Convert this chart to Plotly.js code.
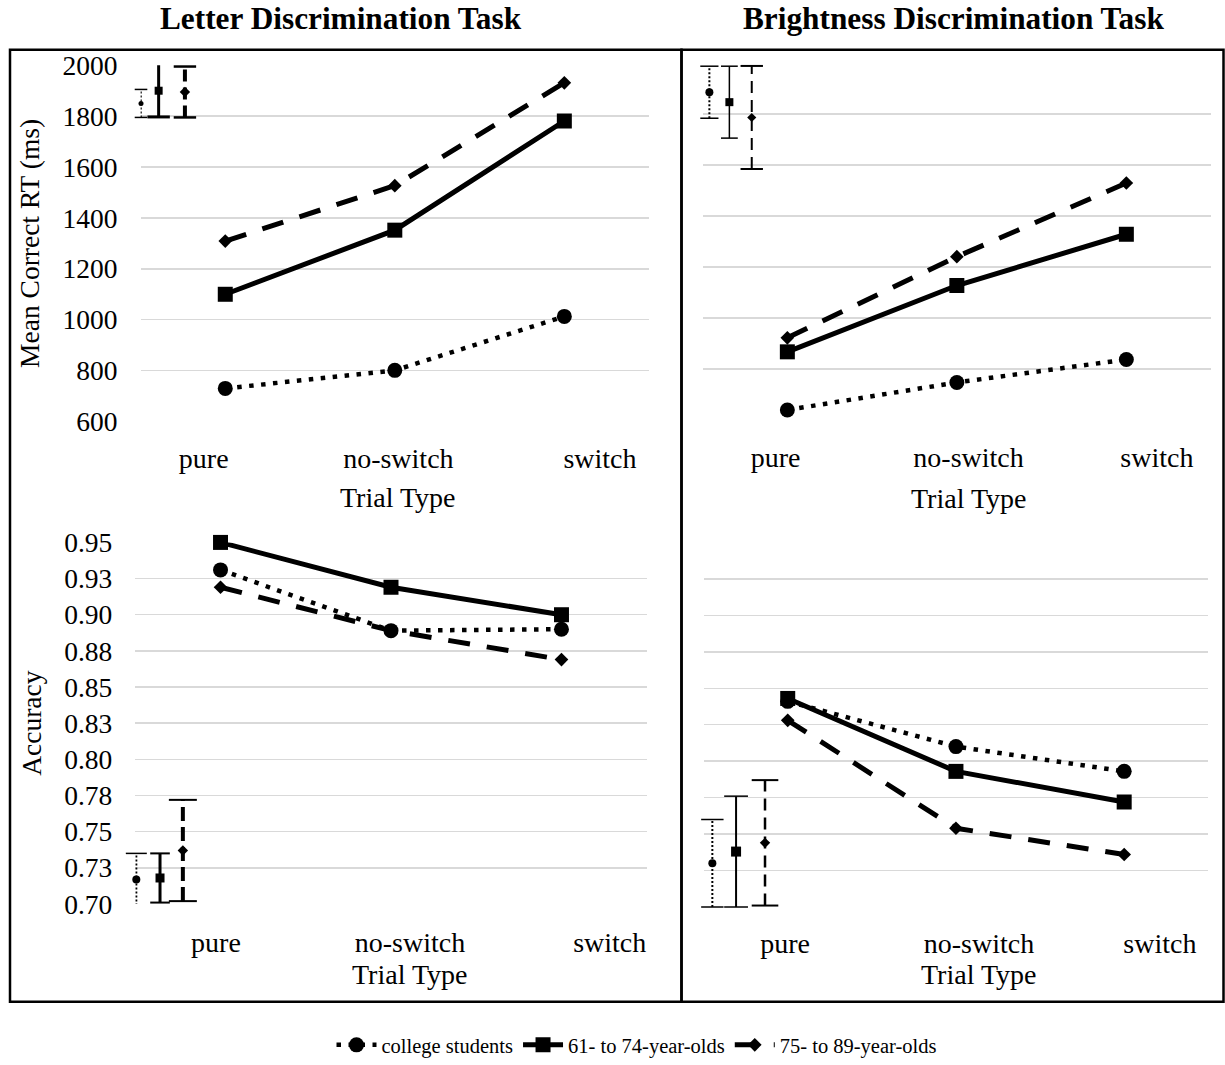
<!DOCTYPE html>
<html><head><meta charset="utf-8">
<script src="https://cdn.plot.ly/plotly-3.0.1.min.js"></script>
<style>html,body{margin:0;padding:0;background:#fff}#chart{width:1225px;height:1065px}</style>
</head><body><div id="chart"></div>
<script>
// ---------- data ----------
const trialTypes = ['pure', 'no-switch', 'switch'];
const groups = ['college students', '61- to 74-year-olds', '75- to 89-year-olds'];
const xTitle = 'Trial Type';

const rtLetterCollege = [730, 801, 1013];
const rtLetterYoungOld = [1100, 1352, 1781];
const rtLetterOldOld = [1309, 1527, 1931];

const rtBrightCollege = [639, 747, 837];
const rtBrightYoungOld = [867, 1127, 1328];
const rtBrightOldOld = [922, 1240, 1529];

const accLetterCollege = [0.931, 0.889, 0.890];
const accLetterYoungOld = [0.950, 0.919, 0.900];
const accLetterOldOld = [0.919, 0.889, 0.869];

const accBrightCollege = [0.841, 0.810, 0.793];
const accBrightYoungOld = [0.843, 0.793, 0.772];
const accBrightOldOld = [0.828, 0.754, 0.736];

// average error bars (mean and half-width) per group
const rtLetterErrMean = [1850, 1900, 1895];
const rtLetterErrSE = [55, 103, 100];
const rtBrightErrMean = [1885, 1846, 1786];
const rtBrightErrSE = [102, 141, 202];
const accLetterErrMean = [0.717, 0.718, 0.737];
const accLetterErrSE = [0.018, 0.017, 0.035];
const accBrightErrMean = [0.730, 0.738, 0.744];
const accBrightErrSE = [0.030, 0.038, 0.043];

const rtTickVals = [600, 800, 1000, 1200, 1400, 1600, 1800, 2000];
const rtTickText = ['600', '800', '1000', '1200', '1400', '1600', '1800', '2000'];
const accTickVals = [0.70, 0.725, 0.75, 0.775, 0.80, 0.825, 0.85, 0.875, 0.90, 0.925, 0.95];
const accTickText = ['0.70', '0.73', '0.75', '0.78', '0.80', '0.83', '0.85', '0.88', '0.90', '0.93', '0.95'];

// ---------- layout / styles ----------
const W = 1225, H = 1065;
const px = v => v / W;
const py = v => 1 - v / H;
const FONT = 'Liberation Serif, Times New Roman, serif';
const xIdx = trialTypes.map((_, i) => i);

const lineStyles = [
  {width: 4.5, dash: '4.5px,7.5px', symbol: 'circle', size: 15},
  {width: 5, dash: 'solid', symbol: 'square', size: 15},
  {width: 5, dash: '22px,17px', symbol: 'diamond', size: 10.5}
];
const errSymbols = ['circle', 'square', 'diamond'];

const panels = [
  {xd: [140.5, 649.1], yd: [65.7, 424.3], yr: [600, 2000], tv: rtTickVals, tt: rtTickText, showY: true,
   ytitle: 'Mean Correct RT (ms)', lab: [-0.127, 1.021, 2.21], titleY: 501, labStand: 17,
   series: [rtLetterCollege, rtLetterYoungOld, rtLetterOldOld],
   em: rtLetterErrMean, es: rtLetterErrSE, ep: [-0.497, -0.393, -0.238],
   est: [{w: 1.5, dash: '2px,2px', cap: 9, cw: 1.5, ms: 5}, {w: 3, dash: 'solid', cap: 16, cw: 3, ms: 8}, {w: 4, dash: '12px,6px', cap: 16, cw: 2.5, ms: 8}]},
  {xd: [702.6, 1211.1], yd: [63.3, 422.7], yr: [600, 2000], tv: rtTickVals, tt: rtTickText, showY: false,
   ytitle: '', lab: [-0.069, 1.069, 2.18], titleY: 502, labStand: 18,
   series: [rtBrightCollege, rtBrightYoungOld, rtBrightOldOld],
   em: rtBrightErrMean, es: rtBrightErrSE, ep: [-0.46, -0.342, -0.21],
   est: [{w: 2, dash: '2px,2px', cap: 13, cw: 1.5, ms: 8}, {w: 1.5, dash: 'solid', cap: 12, cw: 1.5, ms: 8}, {w: 2, dash: '12px,7px', cap: 16, cw: 2, ms: 7}]},
  {xd: [135.3, 646.7], yd: [546, 910], yr: [0.70, 0.95], tv: accTickVals, tt: accTickText, showY: true,
   ytitle: 'Accuracy', lab: [-0.027, 1.111, 2.283], titleY: 981, labStand: 19,
   series: [accLetterCollege, accLetterYoungOld, accLetterOldOld],
   em: accLetterErrMean, es: accLetterErrSE, ep: [-0.494, -0.355, -0.221],
   est: [{w: 2, dash: '2px,2px', cap: 15, cw: 1.5, ms: 8}, {w: 3, dash: 'solid', cap: 14, cw: 2, ms: 9}, {w: 4, dash: '14px,6px', cap: 20, cw: 2, ms: 8}]},
  {xd: [703.6, 1208.3], yd: [546, 913], yr: [0.70, 0.95], tv: accTickVals, tt: accTickText, showY: false,
   ytitle: '', lab: [-0.016, 1.137, 2.212], titleY: 981, labStand: 17,
   series: [accBrightCollege, accBrightYoungOld, accBrightOldOld],
   em: accBrightErrMean, es: accBrightErrSE, ep: [-0.448, -0.307, -0.135],
   est: [{w: 2, dash: '2px,2px', cap: 16, cw: 1.5, ms: 8}, {w: 2, dash: 'solid', cap: 17, cw: 1.5, ms: 10}, {w: 2.5, dash: '12px,7px', cap: 19, cw: 2, ms: 8}]}
];

const data = [];
const layout = {
  width: W, height: H,
  margin: {l: 0, r: 0, t: 0, b: 0},
  paper_bgcolor: '#fff', plot_bgcolor: 'rgba(0,0,0,0)',
  font: {family: FONT, color: '#000', size: 28},
  showlegend: true,
  legend: {orientation: 'h', x: 0.52, xanchor: 'center', y: py(1052), yanchor: 'middle',
           font: {family: FONT, size: 20.5, color: '#000'}, bgcolor: 'rgba(0,0,0,0)', itemwidth: 40, traceorder: 'normal'},
  shapes: [
    {type: 'rect', xref: 'paper', yref: 'paper', x0: px(10), x1: px(681.5), y0: py(1008.5), y1: py(50), line: {color: '#000', width: 2.5}},
    {type: 'rect', xref: 'paper', yref: 'paper', x0: px(681.5), x1: px(1223.5), y0: py(1008.5), y1: py(50), line: {color: '#000', width: 2.5}}
  ],
  annotations: [
    {text: 'Letter Discrimination Task', x: px(341), y: py(19), xref: 'paper', yref: 'paper', showarrow: false,
     xanchor: 'center', yanchor: 'middle', font: {family: FONT, size: 31.3, weight: 'bold', color: '#000'}},
    {text: 'Brightness Discrimination Task', x: px(953), y: py(19), xref: 'paper', yref: 'paper', showarrow: false,
     xanchor: 'center', yanchor: 'middle', font: {family: FONT, size: 31.3, weight: 'bold', color: '#000'}}
  ]
};

panels.forEach((p, k) => {
  const n = k === 0 ? '' : String(k + 1);
  const xa = 'x' + n, ya = 'y' + n;
  layout['xaxis' + n] = {
    domain: [px(p.xd[0]), px(p.xd[1])], anchor: ya, range: [-0.5, 2.5], type: 'linear',
    showgrid: false, zeroline: false, showline: false, ticks: '', fixedrange: true,
    tickmode: 'array', tickvals: p.lab, ticktext: trialTypes, ticklabelstandoff: p.labStand,
    tickfont: {family: FONT, size: 28, color: '#000'},
    automargin: false
  };
  layout['yaxis' + n] = {
    domain: [py(p.yd[1]), py(p.yd[0])], anchor: xa, range: p.yr, type: 'linear',
    showgrid: true, gridcolor: '#d9d9d9', gridwidth: 1.5, zeroline: false, showline: false, ticks: '',
    tickmode: 'array', tickvals: p.tv, ticktext: p.tt, showticklabels: p.showY, ticklabelstandoff: 22,
    tickfont: {family: FONT, size: 27.5, color: '#000'}, fixedrange: true,
    title: {text: p.ytitle, font: {family: FONT, size: 27.5, color: '#000'}, standoff: 14},
    automargin: false
  };
  // x-axis title, centred under the middle category label as in the original
  layout.annotations.push({text: xTitle, xref: xa, x: p.lab[1], yref: 'paper', y: py(p.titleY),
    xanchor: 'center', yanchor: 'middle', showarrow: false, font: {family: FONT, size: 28, color: '#000'}});
  // main series
  p.series.forEach((s, i) => {
    const st = lineStyles[i];
    data.push({
      type: 'scatter', mode: 'lines+markers', x: xIdx, y: s, xaxis: xa, yaxis: ya,
      name: groups[i], legendgroup: groups[i], showlegend: k === 0,
      line: {color: '#000', width: st.width, dash: st.dash},
      marker: {symbol: st.symbol, size: st.size, color: '#000', line: {width: 0}},
      cliponaxis: false, hoverinfo: 'skip'
    });
  });
  // corner error bars
  p.em.forEach((m, i) => {
    const se = p.es[i], xp = p.ep[i], st = p.est[i];
    data.push({type: 'scatter', mode: 'lines', x: [xp, xp], y: [m - se, m + se], xaxis: xa, yaxis: ya,
      line: {color: '#000', width: st.w, dash: st.dash}, showlegend: false, hoverinfo: 'skip'});
    data.push({type: 'scatter', mode: 'markers', x: [xp, xp], y: [m - se, m + se], xaxis: xa, yaxis: ya,
      marker: {symbol: 'line-ew', size: st.cap, color: '#000', line: {width: st.cw, color: '#000'}},
      cliponaxis: false, showlegend: false, hoverinfo: 'skip'});
    data.push({type: 'scatter', mode: 'markers', x: [xp], y: [m], xaxis: xa, yaxis: ya,
      marker: {symbol: errSymbols[i], size: st.ms, color: '#000', line: {width: 0}},
      cliponaxis: false, showlegend: false, hoverinfo: 'skip'});
  });
});

Plotly.newPlot('chart', data, layout, {displayModeBar: false, staticPlot: true});
</script>
</body></html>
